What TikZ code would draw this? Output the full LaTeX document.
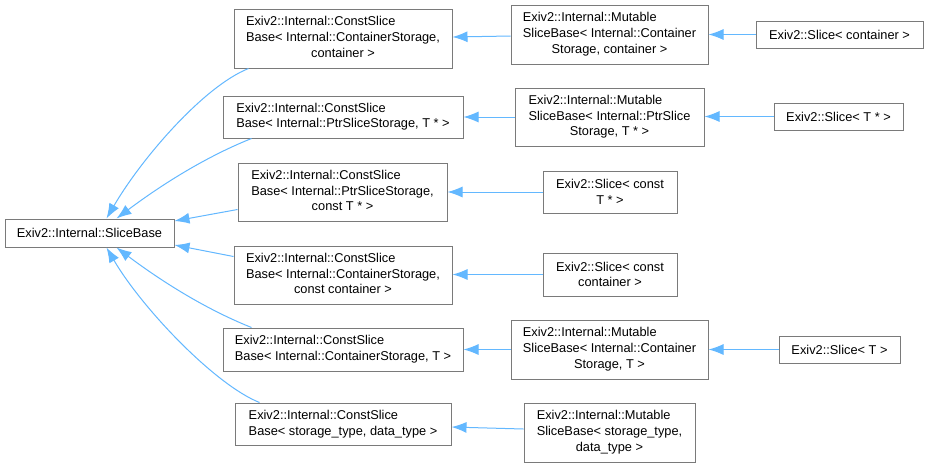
\documentclass[tikz,border=0pt]{standalone}
\usepackage{fontspec}
\setmainfont{Liberation Sans}
\usetikzlibrary{arrows.meta,calc}
\definecolor{boxgray}{HTML}{7A7A7A}
\definecolor{edgeblue}{HTML}{63B8FF}
\newcommand\lastc[1]{\multicolumn{1}{@{}c@{}}{#1}}
\newcommand\blk[1]{\def\arraystretch{1}\begin{tabular}{@{}l@{}}#1\end{tabular}}
\tikzset{
  cls/.style={draw=boxgray, line width=1pt, fill=white, inner sep=0pt, align=center,
    font=\fontsize{12.8}{15.7}\selectfont},
  edge/.style={draw=edgeblue, line width=1pt, -{Latex[length=15pt,width=11pt]}}
}
\begin{document}
\begin{tikzpicture}[x=1pt,y=-1pt]
\useasboundingbox[fill=white] (0,0) rectangle (928,467);
% base
\node[cls, minimum width=169pt, minimum height=28pt] (SB) at (89.5,233) {Exiv2::Internal::SliceBase};
% const slice bases
\node[cls, minimum width=218pt, minimum height=59pt] (C1) at (343,38.5)
  {\blk{Exiv2::Internal::ConstSlice\\Base< Internal::ContainerStorage,\\\lastc{container >}}};
\node[cls, minimum width=240pt, minimum height=42pt] (C2) at (343,117)
  {\blk{Exiv2::Internal::ConstSlice\\Base< Internal::PtrSliceStorage, T * >}};
\node[cls, minimum width=209pt, minimum height=58pt] (C3) at (342.5,192)
  {\blk{Exiv2::Internal::ConstSlice\\Base< Internal::PtrSliceStorage,\\\lastc{const T * >}}};
\node[cls, minimum width=218pt, minimum height=58pt] (C4) at (343,275)
  {\blk{Exiv2::Internal::ConstSlice\\Base< Internal::ContainerStorage,\\\lastc{const container >}}};
\node[cls, minimum width=240pt, minimum height=43pt] (C5) at (343,349.5)
  {\blk{Exiv2::Internal::ConstSlice\\Base< Internal::ContainerStorage, T >}};
\node[cls, minimum width=216pt, minimum height=42pt] (C6) at (343,424)
  {\blk{Exiv2::Internal::ConstSlice\\Base< storage\_type, data\_type >}};
% mutable slice bases
\node[cls, minimum width=197pt, minimum height=59pt] (M1) at (609.5,34.5)
  {\blk{Exiv2::Internal::Mutable\\SliceBase< Internal::Container\\\lastc{Storage, container >}}};
\node[cls, minimum width=189pt, minimum height=58pt] (M2) at (609.5,117)
  {\blk{Exiv2::Internal::Mutable\\SliceBase< Internal::PtrSlice\\\lastc{Storage, T * >}}};
\node[cls, minimum width=197pt, minimum height=59pt] (M3) at (609.5,349.5)
  {\blk{Exiv2::Internal::Mutable\\SliceBase< Internal::Container\\\lastc{Storage, T >}}};
\node[cls, minimum width=171pt, minimum height=59pt] (M4) at (609.5,432.5)
  {\blk{Exiv2::Internal::Mutable\\SliceBase< storage\_type,\\\lastc{data\_type >}}};
% slices
\node[cls, minimum width=134pt, minimum height=42pt] (S3) at (610,192)
  {Exiv2::Slice< const\\T * >};
\node[cls, minimum width=134pt, minimum height=43pt] (S4) at (610,274.5)
  {Exiv2::Slice< const\\container >};
\node[cls, minimum width=167pt, minimum height=27pt] (S1) at (839.5,34.5) {Exiv2::Slice< container >};
\node[cls, minimum width=129pt, minimum height=27pt] (S2) at (838.5,116.5) {Exiv2::Slice< T * >};
\node[cls, minimum width=121pt, minimum height=27pt] (S5) at (839.5,349.5) {Exiv2::Slice< T >};
% edges to SliceBase
\draw[edge] ($(C1.south west)+(15,0)$) .. controls +(-45,18) and +(35,-60) .. ($(SB.north west)+(102,0)$);
\draw[edge] ($(C2.south west)+(29,0)$) .. controls +(-50,20) and +(40,-30) .. ($(SB.north west)+(112,0)$);
\draw[edge] ($(C3.south west)+(0,-12)$) -- ($(SB.east)+(0,-12)$);
\draw[edge] ($(C4.north west)+(0,11)$) -- ($(SB.east)+(0,12)$);
\draw[edge] ($(C5.north west)+(29,0)$) .. controls +(-50,-20) and +(40,30) .. ($(SB.south west)+(112,0)$);
\draw[edge] ($(C6.north west)+(25,0)$) .. controls +(-45,-18) and +(35,60) .. ($(SB.south west)+(102,0)$);
% middle column edges
\draw[edge] ($(M1.west)+(0,1.5)$) -- ($(C1.east)+(0,-1.5)$);
\draw[edge] (M2.west) -- (C2.east);
\draw[edge] (S3.west) -- (S3.west -| C3.east);
\draw[edge] (S4.west) -- (S4.west -| C4.east);
\draw[edge] (M3.west) -- (C5.east);
\draw[edge] ($(M4.west)+(0,-3.5)$) -- ($(C6.east)+(0,3)$);
% right column edges
\draw[edge] (S1.west) -- (M1.east);
\draw[edge] (S2.west) -- (S2.west -| M2.east);
\draw[edge] (S5.west) -- (M3.east);
\end{tikzpicture}
\end{document}
